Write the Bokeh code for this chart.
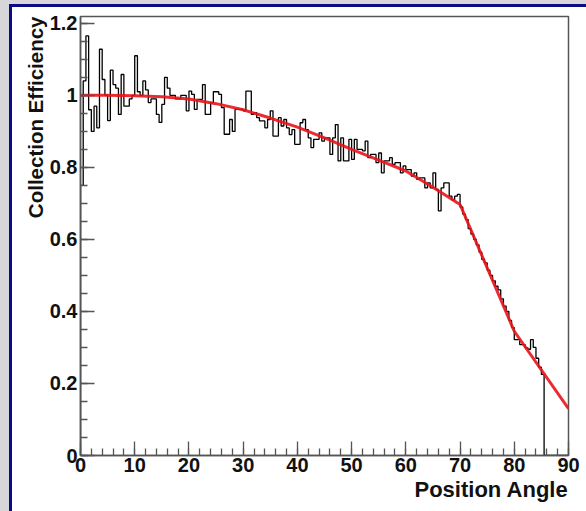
from bokeh.plotting import figure
from bokeh.models import (Title, SingleIntervalTicker, CustomJSTickFormatter,
                          Range1d, Div)
from bokeh.layouts import row, column
from bokeh.embed import file_html
from bokeh.resources import INLINE

# ---- data -------------------------------------------------------------
bin_width = 0.5
# histogram contents, bins [0,0.5), [0.5,1.0), ... up to 85.5
hist_values = [
    0.75, 1.04, 1.165, 0.96, 0.90, 0.97, 0.91, 1.128, 1.044, 1.00,
    0.93, 1.07, 1.03, 1.02, 0.947, 1.058, 0.97, 0.97, 0.99, 1.00,
    1.11, 1.01, 1.00, 1.04, 1.015, 0.98, 0.99, 0.99, 0.947, 0.925,
    0.975, 1.05, 1.02, 1.00, 1.00, 0.99, 0.99, 1.00, 1.00, 0.957,
    1.012, 1.003, 0.961, 0.989, 0.989, 1.03, 0.947, 0.947, 0.98, 1.01,
    1.01, 1.003, 0.966, 0.892, 0.892, 0.933, 0.90, 0.961, 0.961, 0.961,
    0.957, 1.012, 1.012, 0.947, 0.952, 0.938, 0.929, 0.929, 0.91, 0.933,
    0.957, 0.887, 0.887, 0.938, 0.915, 0.933, 0.91, 0.891, 0.905, 0.864,
    0.864, 0.924, 0.933, 0.905, 0.882, 0.855, 0.878, 0.878, 0.896, 0.873,
    0.882, 0.882, 0.836, 0.882, 0.919, 0.818, 0.882, 0.818, 0.818, 0.878,
    0.822, 0.878, 0.85, 0.85, 0.846, 0.873, 0.827, 0.836, 0.836, 0.813,
    0.84, 0.785, 0.818, 0.818, 0.827, 0.808, 0.813, 0.813, 0.785, 0.804,
    0.794, 0.794, 0.776, 0.785, 0.767, 0.771, 0.771, 0.743, 0.757, 0.743,
    0.785, 0.739, 0.679, 0.743, 0.757, 0.757, 0.72, 0.71, 0.72, 0.725,
    0.69, 0.67, 0.655, 0.63, 0.615, 0.60, 0.585, 0.565, 0.545, 0.535,
    0.515, 0.50, 0.485, 0.47, 0.46, 0.435, 0.415, 0.40, 0.375, 0.355,
    0.322, 0.322, 0.308, 0.308, 0.299, 0.295, 0.322, 0.30, 0.27, 0.245,
    0.225,
]

# fitted curve (red)
fit_x = [0, 5, 10, 15, 20, 25, 30, 35, 40, 45, 50, 55, 60, 65, 70, 80, 90]
fit_y = [1.0, 1.0, 0.999, 0.996, 0.99, 0.977, 0.96, 0.937, 0.912, 0.882,
         0.85, 0.82, 0.79, 0.745, 0.697, 0.345, 0.13]

x_label = "Position Angle"
y_label = "Collection Efficiency"
x_min, x_max = 0, 90
y_min, y_max = 0, 1.219

# ---- build histogram outline ------------------------------------------
n = len(hist_values)
edges = [i * bin_width for i in range(n + 1)]
step_x = [edges[0]] + edges[:n] + [edges[n], x_max]
step_y = [0.0] + list(hist_values) + [0.0, 0.0]

# ---- page frame pieces ------------------------------------------------
grey = "#d7d7d9"
navy = "#0b0b8a"
LEFT_W, TOP_H = 12, 7
PAGE_W, PAGE_H = 586, 511
W, H = PAGE_W - LEFT_W, PAGE_H - TOP_H

left_strip = Div(text="", width=LEFT_W, height=PAGE_H, margin=0, styles={
    "background": "linear-gradient(to bottom, %s 4px, transparent 4px), "
                  "linear-gradient(to right, %s 9px, %s 9px)" % (grey, grey, navy),
})
top_strip = Div(text="", width=W, height=TOP_H, margin=0, styles={
    "background": "linear-gradient(to bottom, %s 4px, %s 4px)" % (grey, navy),
})

# ---- figure -----------------------------------------------------------
p = figure(width=W, height=H, output_backend="svg", toolbar_location=None,
           x_range=Range1d(x_min, x_max), y_range=Range1d(y_min, y_max),
           min_border_left=68, min_border_right=18, min_border_top=9,
           min_border_bottom=56, margin=0)
p.xgrid.visible = False
p.ygrid.visible = False
p.background_fill_color = "white"
p.border_fill_color = "white"
p.outline_line_color = "#555555"
p.outline_line_width = 1.5

p.xaxis.ticker = SingleIntervalTicker(interval=10, num_minor_ticks=5)
p.yaxis.ticker = SingleIntervalTicker(interval=0.2, num_minor_ticks=4)
fmt = CustomJSTickFormatter(code="return (Math.round(tick*10)/10).toString();")
p.xaxis.formatter = fmt
p.yaxis.formatter = fmt

for ax in (p.xaxis[0], p.yaxis[0]):
    ax.axis_line_color = "#555555"
    ax.axis_line_width = 1.5
    ax.major_tick_in = 14
    ax.major_tick_out = 0
    ax.minor_tick_in = 7
    ax.minor_tick_out = 0
    ax.major_tick_line_color = "#555555"
    ax.minor_tick_line_color = "#555555"
    ax.major_tick_line_width = 1.3
    ax.minor_tick_line_width = 1.3
    ax.major_label_text_font = "Liberation Sans"
    ax.major_label_text_font_style = "bold"
    ax.major_label_text_font_size = "20px"
    ax.major_label_text_color = "#111111"
p.xaxis.major_label_standoff = 2
p.yaxis.major_label_standoff = 3

p.add_layout(Title(text=x_label, align="right", text_font="Liberation Sans",
                   text_font_size="22px", text_font_style="bold",
                   text_color="#111111", standoff=0), "below")
p.add_layout(Title(text=y_label, align="right", text_font="Liberation Sans",
                   text_font_size="20.5px", text_font_style="bold",
                   text_color="#111111", standoff=0), "left")

p.step(step_x, step_y, mode="after", line_color="black", line_width=1.3)
p.line(fit_x, fit_y, line_color="#e8141c", line_width=3, line_alpha=0.9)

layout = row(left_strip, column(top_strip, p, spacing=0), spacing=0)

open("out.html", "w").write(file_html(layout, INLINE))
